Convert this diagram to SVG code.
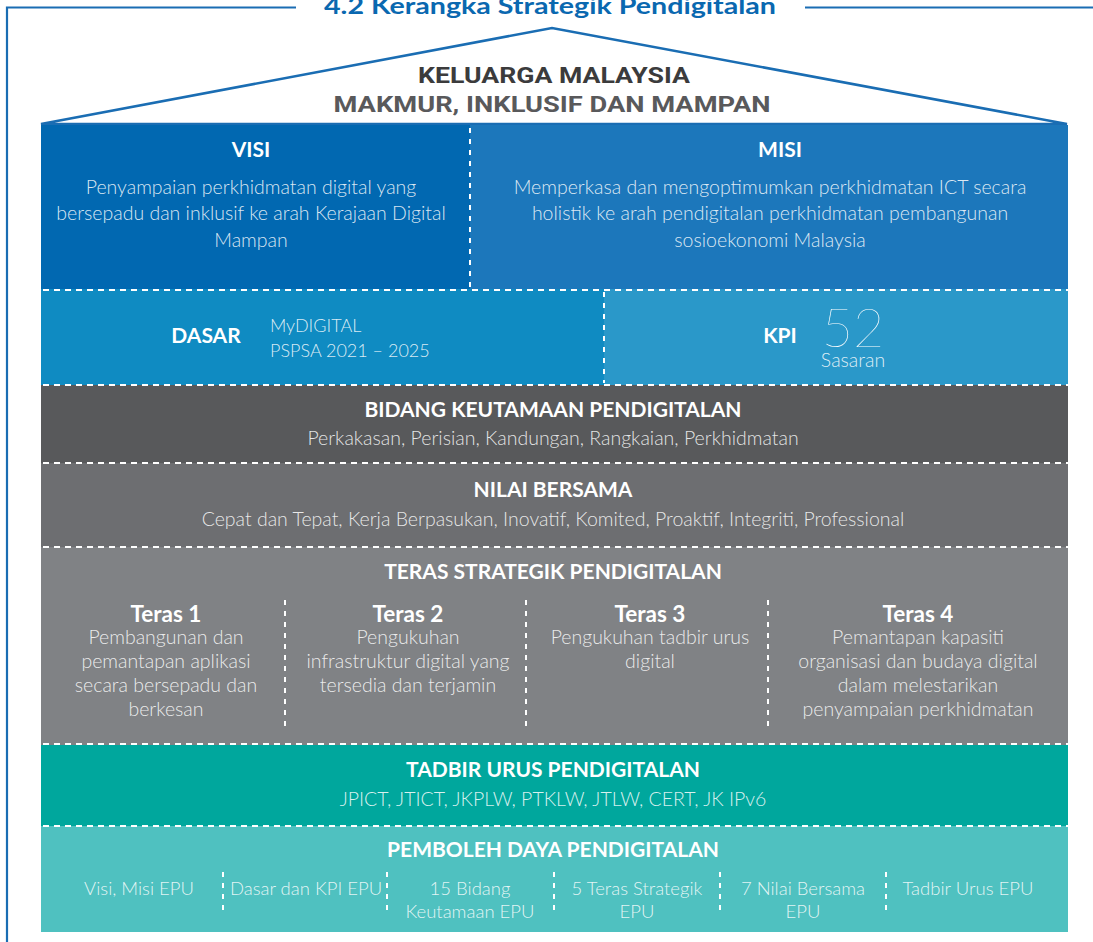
<svg xmlns="http://www.w3.org/2000/svg" width="1093" height="942" viewBox="0 0 1093 942">
<style>
.frame{fill:none;stroke:#1a6db3;stroke-width:2.2}
.h{font-family:Lato,"Noto Sans",sans-serif;font-weight:700;fill:#fff;font-size:21px;text-anchor:middle}
.t{font-size:22.5px}
.d{font-family:Lato,"Noto Sans",sans-serif;font-weight:300;fill:#fff;fill-opacity:0.85;font-size:19.5px;text-anchor:middle}
.s{font-size:18.5px}
.dl{text-anchor:start;font-size:18px}
.hd{fill:none;stroke:#fff;stroke-width:2;stroke-dasharray:6 5}
.vd{fill:none;stroke:#fff;stroke-width:2;stroke-dasharray:5 6}
</style>
<rect width="1093" height="942" fill="#fff"/>
<g id="frame">
<path class="frame" d="M7 942 V7.5 H296 M805 7.5 H1093"/>
<text x="550" y="14" font-family="Lato,'Noto Sans',sans-serif" font-weight="700" font-size="23" fill="#0a68b0" text-anchor="middle" textLength="452" lengthAdjust="spacingAndGlyphs">4.2 Kerangka Strategik Pendigitalan</text>
</g>
<g id="roof">
<polygon points="41,124 552,28 1067,124" fill="#fff" stroke="#1a6db3" stroke-width="2.5" stroke-linejoin="miter"/>
<text x="554" y="83" font-family="Roboto,'Liberation Sans',sans-serif" font-weight="700" font-size="22" fill="#3b3b3c" text-anchor="middle" textLength="272" lengthAdjust="spacingAndGlyphs">KELUARGA MALAYSIA</text>
<text x="552" y="112" font-family="Roboto,'Liberation Sans',sans-serif" font-weight="700" font-size="22" fill="#59595b" text-anchor="middle" textLength="437" lengthAdjust="spacingAndGlyphs">MAKMUR, INKLUSIF DAN MAMPAN</text>
</g>
<g id="visi">
<rect x="41" y="125" width="429" height="164" fill="#0168b1"/>
<text class="h" x="251" y="157">VISI</text>
<text class="d" x="251" y="194">Penyampaian perkhidmatan digital yang</text>
<text class="d" x="251" y="220">bersepadu dan inklusif ke arah Kerajaan Digital</text>
<text class="d" x="251" y="247">Mampan</text>
</g>
<g id="misi">
<rect x="470" y="125" width="598" height="164" fill="#1c77bb"/>
<text class="h" x="780" y="157">MISI</text>
<text class="d" x="770" y="194">Memperkasa dan mengoptimumkan perkhidmatan ICT secara</text>
<text class="d" x="770" y="220">holistik ke arah pendigitalan perkhidmatan pembangunan</text>
<text class="d" x="770" y="247">sosioekonomi Malaysia</text>
</g>
<g id="dasar">
<rect x="41" y="289" width="563" height="96" fill="#0f8bc2"/>
<text class="h" x="206" y="343">DASAR</text>
<text class="d dl" x="270" y="332">MyDIGITAL</text>
<text class="d dl" x="270" y="357">PSPSA 2021 – 2025</text>
</g>
<g id="kpi">
<rect x="604" y="289" width="464" height="96" fill="#2a98c9"/>
<text class="h" x="780" y="343">KPI</text>
<text x="853" y="347" font-family="Lato,'Noto Sans',sans-serif" font-weight="200" font-size="54" fill="#fff" text-anchor="middle">52</text>
<text class="d" x="853" y="367">Sasaran</text>
</g>
<g id="bidang">
<rect x="41" y="385" width="1027" height="78" fill="#58595b"/>
<text class="h" x="553" y="417">BIDANG KEUTAMAAN PENDIGITALAN</text>
<text class="d" x="553" y="445">Perkakasan, Perisian, Kandungan, Rangkaian, Perkhidmatan</text>
</g>
<g id="nilai">
<rect x="41" y="463" width="1027" height="84" fill="#6d6e71"/>
<text class="h" x="553" y="497">NILAI BERSAMA</text>
<text class="d" x="553" y="526">Cepat dan Tepat, Kerja Berpasukan, Inovatif, Komited, Proaktif, Integriti, Professional</text>
</g>
<g id="teras">
<rect x="41" y="547" width="1027" height="198" fill="#808285"/>
<text class="h" x="553" y="579">TERAS STRATEGIK PENDIGITALAN</text>
<text class="h t" x="166" y="622">Teras 1</text>
<text class="d" x="166" y="644">Pembangunan dan</text>
<text class="d" x="166" y="668">pemantapan aplikasi</text>
<text class="d" x="166" y="692">secara bersepadu dan</text>
<text class="d" x="166" y="716">berkesan</text>
<text class="h t" x="408" y="622">Teras 2</text>
<text class="d" x="408" y="644">Pengukuhan</text>
<text class="d" x="408" y="668">infrastruktur digital yang</text>
<text class="d" x="408" y="692">tersedia dan terjamin</text>
<text class="h t" x="650" y="622">Teras 3</text>
<text class="d" x="650" y="644">Pengukuhan tadbir urus</text>
<text class="d" x="650" y="668">digital</text>
<text class="h t" x="918" y="622">Teras 4</text>
<text class="d" x="918" y="644">Pemantapan kapasiti</text>
<text class="d" x="918" y="668">organisasi dan budaya digital</text>
<text class="d" x="918" y="692">dalam melestarikan</text>
<text class="d" x="918" y="716">penyampaian perkhidmatan</text>
</g>
<g id="tadbir">
<rect x="41" y="745" width="1027" height="81" fill="#00a79d"/>
<text class="h" x="553" y="777">TADBIR URUS PENDIGITALAN</text>
<text class="d" x="553" y="806">JPICT, JTICT, JKPLW, PTKLW, JTLW, CERT, JK IPv6</text>
</g>
<g id="pemboleh">
<rect x="41" y="826" width="1027" height="106" fill="#4fc1c0"/>
<text class="h" x="553" y="857">PEMBOLEH DAYA PENDIGITALAN</text>
<text class="d s" x="139" y="895">Visi, Misi EPU</text>
<text class="d s" x="306" y="895">Dasar dan KPI EPU</text>
<text class="d s" x="470" y="895">15 Bidang</text>
<text class="d s" x="470" y="918">Keutamaan EPU</text>
<text class="d s" x="637" y="895">5 Teras Strategik</text>
<text class="d s" x="637" y="918">EPU</text>
<text class="d s" x="803" y="895">7 Nilai Bersama</text>
<text class="d s" x="803" y="918">EPU</text>
<text class="d s" x="968" y="895">Tadbir Urus EPU</text>
</g>
<g id="connectors">
<path class="vd" d="M470 128 V288"/>
<path class="hd" d="M43 290 H1068"/>
<path class="vd" d="M604 292 V383"/>
<path class="hd" d="M43 385 H1068"/>
<path class="hd" d="M43 463 H1068"/>
<path class="hd" d="M43 547 H1068"/>
<path class="vd" d="M285 600 V726 M526 600 V726 M768 600 V726"/>
<path class="hd" d="M43 744 H1068"/>
<path class="hd" d="M43 826 H1068"/>
<path class="vd" d="M223 872 V916 M387 872 V916 M554 872 V916 M720 872 V916 M886 872 V916"/>
</g>
</svg>
